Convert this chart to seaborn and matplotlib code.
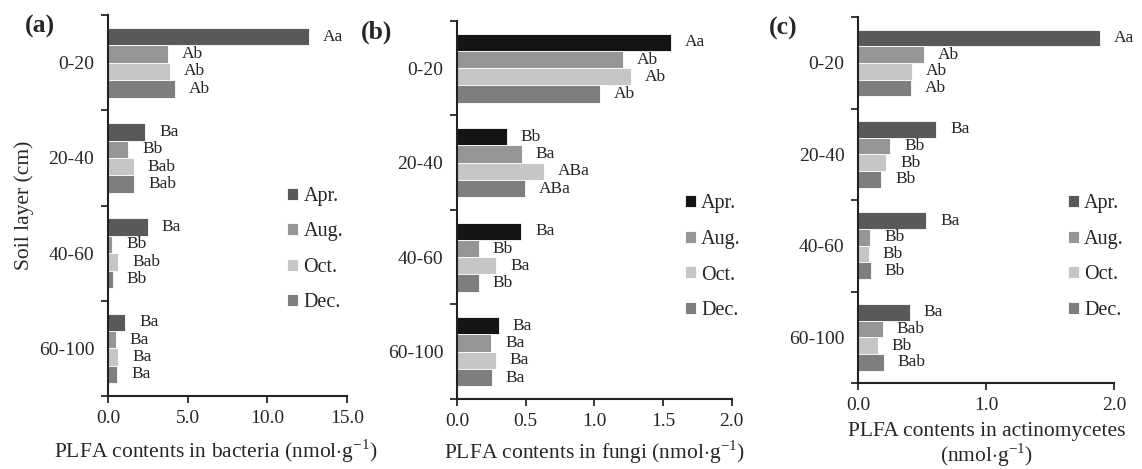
import numpy as np
import pandas as pd
import matplotlib
matplotlib.use('Agg')
from matplotlib import pyplot as plt
import seaborn as sns

# data -------------------------------------------------------------------------------
layers = ['0-20', '20-40', '40-60', '60-100']
months = ['Apr.', 'Aug.', 'Oct.', 'Dec.']

bacteria = {
    'Apr.': [12.62, 2.33, 2.49, 1.09],
    'Aug.': [3.77, 1.28, 0.27, 0.50],
    'Oct.': [3.88, 1.61, 0.65, 0.65],
    'Dec.': [4.23, 1.66, 0.31, 0.59],
}
fungi = {
    'Apr.': [1.558, 0.364, 0.468, 0.306],
    'Aug.': [1.206, 0.471, 0.158, 0.248],
    'Oct.': [1.265, 0.633, 0.286, 0.282],
    'Dec.': [1.044, 0.498, 0.158, 0.255],
}
actino = {
    'Apr.': [1.89, 0.61, 0.53, 0.40],
    'Aug.': [0.51, 0.25, 0.094, 0.19],
    'Oct.': [0.42, 0.22, 0.081, 0.15],
    'Dec.': [0.41, 0.18, 0.096, 0.20],
}

bacteria_sig = {
    'Apr.': ['Aa', 'Ba', 'Ba', 'Ba'],
    'Aug.': ['Ab', 'Bb', 'Bb', 'Ba'],
    'Oct.': ['Ab', 'Bab', 'Bab', 'Ba'],
    'Dec.': ['Ab', 'Bab', 'Bb', 'Ba'],
}
fungi_sig = {
    'Apr.': ['Aa', 'Bb', 'Ba', 'Ba'],
    'Aug.': ['Ab', 'Ba', 'Bb', 'Ba'],
    'Oct.': ['Ab', 'ABa', 'Ba', 'Ba'],
    'Dec.': ['Ab', 'ABa', 'Bb', 'Ba'],
}
actino_sig = {
    'Apr.': ['Aa', 'Ba', 'Ba', 'Ba'],
    'Aug.': ['Ab', 'Bb', 'Bb', 'Bab'],
    'Oct.': ['Ab', 'Bb', 'Bb', 'Bb'],
    'Dec.': ['Ab', 'Bb', 'Bb', 'Bab'],
}

sns.set_style('ticks')
plt.rcParams['font.family'] = ['Liberation Serif', 'DejaVu Serif']
plt.rcParams['mathtext.fontset'] = 'custom'
plt.rcParams['mathtext.rm'] = 'Liberation Serif'


def to_long(values, sig):
    rows = []
    for m in months:
        for i, l in enumerate(layers):
            rows.append({'layer': l, 'month': m, 'value': values[m][i], 'sig': sig[m][i]})
    return pd.DataFrame(rows)


def panel(ax, values, sig, palette, xmax, xticks, xlabel, tag, leg_anchor, lpad=6):
    df = to_long(values, sig)
    sns.barplot(data=df, y='layer', x='value', hue='month', order=layers, hue_order=months,
                palette=palette, orient='h', width=0.73, gap=0, ax=ax,
                edgecolor='white', linewidth=0.6, errorbar=None, saturation=1)
    # 유의성 문자
    for cont, m in zip(ax.containers, months):
        for bar, s in zip(cont, sig[m]):
            y = bar.get_y() + bar.get_height() / 2
            ax.annotate(s, (bar.get_width(), y), xytext=(10, 0), textcoords='offset points',
                        va='center', ha='left', fontsize=12.5, annotation_clip=False)
    ax.set_xlim(0, xmax)
    ax.set_xticks(xticks)
    ax.set_xticklabels(['{:.1f}'.format(t) for t in xticks], fontsize=14)
    ax.set_ylim(3.5, -0.5)
    ax.set_yticks([-0.5, 0.5, 1.5, 2.5, 3.5])
    ax.set_yticklabels([])
    ax.set_yticks(range(4), minor=True)
    ax.set_yticklabels(layers, minor=True, fontsize=14)
    ax.tick_params(axis='y', which='minor', length=0, pad=10)
    ax.tick_params(axis='y', which='major', length=5, width=1.3, direction='out')
    ax.tick_params(axis='x', length=5, width=1.3, direction='out', pad=5)
    sns.despine(ax=ax)
    for s in ['left', 'bottom']:
        ax.spines[s].set_linewidth(1.5)
        ax.spines[s].set_color('#222222')
    ax.set_ylabel('')
    ax.set_xlabel(xlabel, fontsize=15.5, labelpad=lpad, linespacing=1.0)
    ax.text(-0.35, 1.0, tag, transform=ax.transAxes, fontsize=18.5, fontweight='bold',
            va='top', ha='left')
    ax.legend(loc='upper left', bbox_to_anchor=leg_anchor, frameon=False, fontsize=14.5,
              handlelength=0.55, handleheight=0.55, handletextpad=0.25, labelspacing=0.82,
              borderaxespad=0, borderpad=0)


fig = plt.figure(figsize=(11.42, 4.69), dpi=100)
ax1 = fig.add_axes([0.0946, 0.1557, 0.2093, 0.812])
ax2 = fig.add_axes([0.4002, 0.1493, 0.2405, 0.806])
ax3 = fig.add_axes([0.7516, 0.1834, 0.2242, 0.780])

pal_a = ['#595959', '#969696', '#c6c6c6', '#7e7e7e']
pal_b = ['#141414', '#969696', '#c6c6c6', '#7e7e7e']

unit = ' (nmol$\\cdot$g$^{\\mathrm{-1}}$)'
panel(ax1, bacteria, bacteria_sig, pal_a, 15, [0, 5, 10, 15],
      'PLFA contents in bacteria' + unit, '(a)', (0.75, 0.549))
panel(ax2, fungi, fungi_sig, pal_b, 2.0, [0, 0.5, 1.0, 1.5, 2.0],
      'PLFA contents in fungi' + unit, '(b)', (0.83, 0.541))
panel(ax3, actino, actino_sig, pal_a, 2.0, [0, 1.0, 2.0],
      'PLFA contents in actinomycetes\n' + unit.strip(), '(c)', (0.819, 0.516), lpad=6)
ax1.xaxis.set_label_coords(0.45, -0.108)
ax1.set_ylabel('Soil layer (cm)', fontsize=15.5, labelpad=3)

fig.savefig('out.png', dpi=100)
